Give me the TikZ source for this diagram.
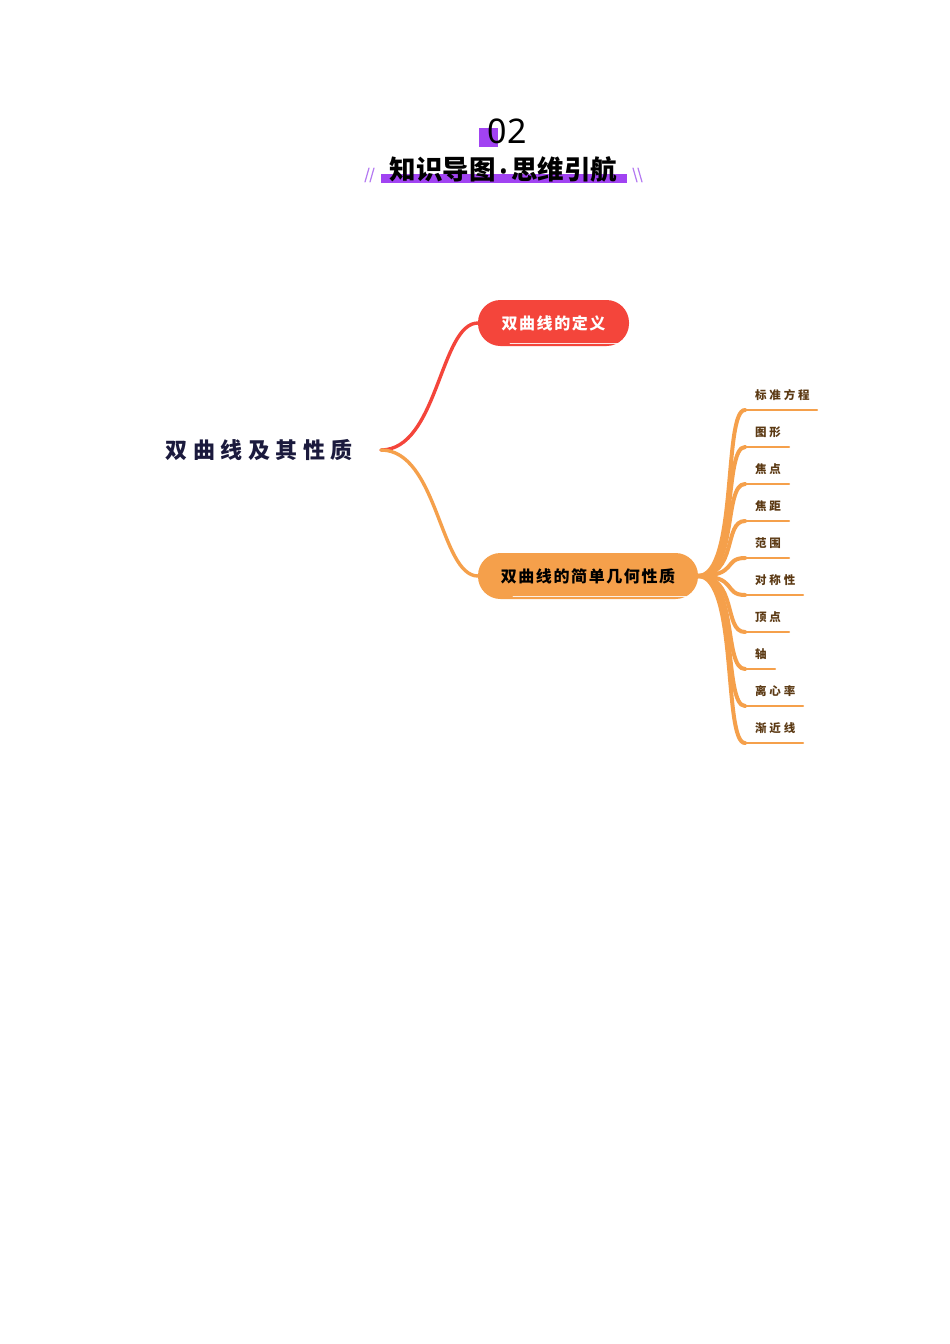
\documentclass[tikz,border=0pt]{standalone}
\usepackage{fontspec}
\usetikzlibrary{positioning, calc}

\newfontfamily\hei{Noto Sans CJK SC}
\newfontfamily\heiroot[LetterSpace=25]{Noto Sans CJK SC}
\newfontfamily\heitopic[LetterSpace=10]{Noto Sans CJK SC}
\newfontfamily\heileaf[LetterSpace=25]{Noto Sans CJK SC}
\newfontfamily\numfont{Noto Sans}

\definecolor{mapred}{HTML}{F4453B}
\definecolor{maporange}{HTML}{F5A04B}
\definecolor{mapnavy}{HTML}{1B1A3D}
\definecolor{mapbrown}{HTML}{5C3A14}
\definecolor{headpurple}{HTML}{A143F2}
\definecolor{slashpurple}{HTML}{B57AF2}

\begin{document}
\begin{tikzpicture}[
    x=1pt, y=-1pt,
    line cap=round,
    every node/.style={inner sep=0pt, outer sep=0pt},
    branch/.style={line width=3.4pt},
    twig/.style={line width=4pt, maporange},
    twigline/.style={line width=2.4pt, maporange},
    streak/.style={line width=0.9pt, white, opacity=0.85},
    slash/.style={line width=1.2pt, slashpurple}
]

% Styles for the map nodes
\tikzset{
    rootstyle/.style={
        font=\heiroot\bfseries\fontsize{22}{22}\selectfont,
        text=mapnavy
    },
    topicstyle/.style={
        rectangle,
        rounded corners=22.5pt,
        minimum height=46pt,
        font=\heitopic\bfseries\fontsize{16}{16}\selectfont
    },
    leafstyle/.style={
        anchor=west,
        font=\heileaf\bfseries\fontsize{11.5}{11.5}\selectfont,
        text=mapbrown
    }
}

\useasboundingbox[fill=white] (0,0) rectangle (950,1344);

% Header
\node[fill=headpurple, minimum size=19pt] (mark) at (488.5,137.5) {};
\node[font=\numfont\fontsize{34}{34}\selectfont] (num) at (507,131) {02};
\fill[headpurple] (381,174) rectangle (627,183);
\node[font=\hei\bfseries\fontsize{26.5}{26.5}\selectfont] (title) at (503.5,169.5) {知识导图{\numfont\bfseries\fontsize{22}{22}\selectfont\,•\,}思维引航};
\draw[slash] (365,182) -- (369,168);
\draw[slash] (370,182) -- (374,168);
\draw[slash] (633,168) -- (637,182);
\draw[slash] (638,168) -- (642,182);

% Root
\node[rootstyle] (root) at (259,450) {双曲线及其性质};
\coordinate (fork) at (381,450);

% Main topics
\node[topicstyle, fill=mapred, text=white, minimum width=151pt] (def) at (553.5,323) {双曲线的定义};
\node[topicstyle, fill=maporange, text=black, minimum width=220pt] (prop) at (588,576) {双曲线的简单几何性质};

% Sketchy light strokes along the bottom of the topics
\draw[streak] ($(def.south west)+(32,-3)$) -- ($(def.south east)+(-10,-3)$);
\draw[streak] ($(prop.south west)+(35,-3)$) -- ($(prop.south east)+(-12,-3)$);

\draw[branch, mapred] (fork) .. controls +(57,0) and +(-38,0) .. (def.west);
\draw[branch, maporange] (fork) .. controls +(57,0) and +(-38,0) .. (prop.west);

% Leaves of the second topic
\node[leafstyle] (t1) at (755,395) {标准方程};
\node[leafstyle] (t2) at (755,432) {图形};
\node[leafstyle] (t3) at (755,469) {焦点};
\node[leafstyle] (t4) at (755,506) {焦距};
\node[leafstyle] (t5) at (755,543) {范围};
\node[leafstyle] (t6) at (755,580) {对称性};
\node[leafstyle] (t7) at (755,617) {顶点};
\node[leafstyle] (t8) at (755,654) {轴};
\node[leafstyle] (t9) at (755,691) {离心率};
\node[leafstyle] (t10) at (755,728) {渐近线};

% Underline ends
\coordinate (u1) at (745,410);  \coordinate (e1) at (817,410);
\coordinate (u2) at (745,447);  \coordinate (e2) at (789,447);
\coordinate (u3) at (745,484);  \coordinate (e3) at (789,484);
\coordinate (u4) at (745,521);  \coordinate (e4) at (789,521);
\coordinate (u5) at (745,558);  \coordinate (e5) at (789,558);
\coordinate (u6) at (745,595);  \coordinate (e6) at (803,595);
\coordinate (u7) at (745,632);  \coordinate (e7) at (789,632);
\coordinate (u8) at (745,669);  \coordinate (e8) at (775,669);
\coordinate (u9) at (745,706);  \coordinate (e9) at (803,706);
\coordinate (u10) at (745,743); \coordinate (e10) at (803,743);

\draw[twig] (prop.east) .. controls +(40,0) and +(-22,0) .. (u1) edge[twigline] (e1);
\draw[twig] (prop.east) .. controls +(40,0) and +(-22,0) .. (u2) edge[twigline] (e2);
\draw[twig] (prop.east) .. controls +(40,0) and +(-22,0) .. (u3) edge[twigline] (e3);
\draw[twig] (prop.east) .. controls +(40,0) and +(-22,0) .. (u4) edge[twigline] (e4);
\draw[twig] (prop.east) .. controls +(40,0) and +(-22,0) .. (u5) edge[twigline] (e5);
\draw[twig] (prop.east) .. controls +(40,0) and +(-22,0) .. (u6) edge[twigline] (e6);
\draw[twig] (prop.east) .. controls +(40,0) and +(-22,0) .. (u7) edge[twigline] (e7);
\draw[twig] (prop.east) .. controls +(40,0) and +(-22,0) .. (u8) edge[twigline] (e8);
\draw[twig] (prop.east) .. controls +(40,0) and +(-22,0) .. (u9) edge[twigline] (e9);
\draw[twig] (prop.east) .. controls +(40,0) and +(-22,0) .. (u10) edge[twigline] (e10);

\end{tikzpicture}
\end{document}
